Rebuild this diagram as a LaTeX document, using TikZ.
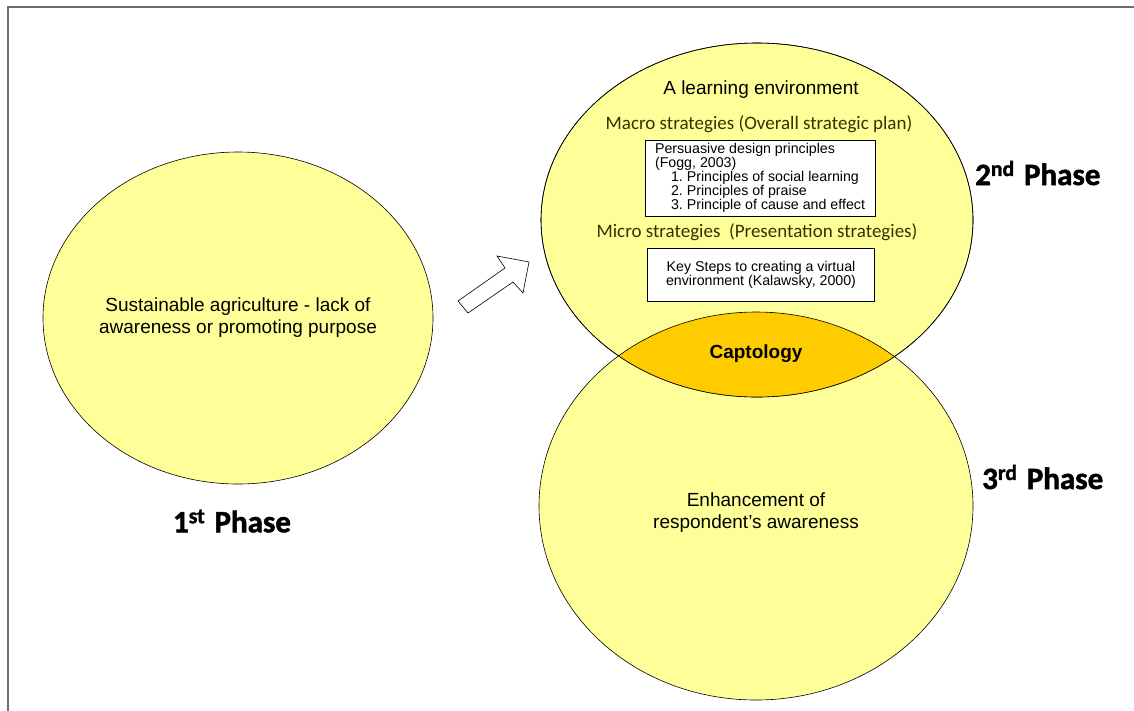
\documentclass[tikz,border=0pt]{standalone}
\usepackage{fontspec}
\setmainfont{Liberation Sans}
\newfontfamily\calfont{Carlito}
\newfontfamily\phasefont[BoldFeatures={FakeBold=1.6}]{Carlito}
\usetikzlibrary{positioning,shapes.geometric}
\definecolor{paleyellow}{HTML}{FFFF99}
\definecolor{lensgold}{HTML}{FFCC00}
\definecolor{olivetext}{RGB}{51,51,0}
\definecolor{framegray}{RGB}{110,110,110}

\begin{document}
\begin{tikzpicture}[x=1pt,y=-1pt,
		phase/.style={ellipse,draw=black,fill=paleyellow,inner sep=0pt,line width=0.6pt},
		plain/.style={font=\fontsize{19}{22}\selectfont,align=center,inner sep=0pt},
		strat/.style={font=\calfont\fontsize{19}{22}\selectfont,text=olivetext,inner sep=0pt},
		refbox/.style={draw=black,fill=white,line width=0.6pt,font=\fontsize{14.2}{14}\selectfont,inner sep=0pt},
		label/.style={font=\phasefont\bfseries\fontsize{31}{33}\selectfont,inner sep=0pt}]
	\useasboundingbox (0,0) rectangle (1134,710);
	\draw[framegray,line width=2.2pt] (8,712) -- (8,7) -- (1136,7);

	\node[phase,minimum width=390pt,minimum height=332pt]	(one)	at (238,318) {};
	\node[phase,minimum width=434pt,minimum height=388pt]	(three)	at (756,506) {};
	\node[phase,minimum width=432pt,minimum height=354pt]	(two)	at (757,220) {};

	% overlap of 2nd and 3rd phase
	\begin{scope}
		\clip (757,220) ellipse [x radius=216pt,y radius=177pt];
		\fill[lensgold,draw=black,line width=0.6pt] (756,506) ellipse [x radius=217pt,y radius=194pt];
	\end{scope}
	\draw[line width=0.6pt] (757,220) ellipse [x radius=216pt,y radius=177pt];

	\draw[fill=white,line width=0.6pt,line join=miter]
		(458,301) -- (505,268) -- (497,256) -- (529,262) -- (523,293) -- (513,282) -- (468,313) -- cycle;

	\node[plain]	(agri)	at (one.center)	{Sustainable agriculture - lack of\\awareness or promoting purpose};
	\node[plain]	(learn)	at (761,90)	{A learning environment};
	\node[strat]	(macro)	at (759,124)	{Macro strategies (Overall strategic plan)};
	\node[refbox,minimum width=230pt,minimum height=76pt,align=left] (fogg) at (760,178)
		{Persuasive design principles\\(Fogg, 2003)\\
		\hspace*{16pt}1.~Principles of social learning\\
		\hspace*{16pt}2.~Principles of praise\\
		\hspace*{16pt}3.~Principle of cause and effect};
	\node[strat]	(micro)	at (757,232)	{Micro strategies\ \ (Presentation strategies)};
	\node[refbox,minimum width=227pt,minimum height=53pt,align=center] (kal) at (761,275)
		{Key Steps to creating a virtual\\environment (Kalawsky, 2000)};
	\node[plain,font=\bfseries\fontsize{19}{22}\selectfont]	(capt)	at (756,354)	{Captology};
	\node[plain]	(aware)	at (756,513)	{Enhancement of\\respondent’s awareness};

	\node[label]	(p1)	at (232,521)	{1\textsuperscript{st}\hspace{0.3em}Phase};
	\node[label,anchor=west]	(p2)	at (975,173)	{2\textsuperscript{nd}\hspace{0.3em}Phase};
	\node[label,anchor=west]	(p3)	at (982,477)	{3\textsuperscript{rd}\hspace{0.3em}Phase};
\end{tikzpicture}
\end{document}
